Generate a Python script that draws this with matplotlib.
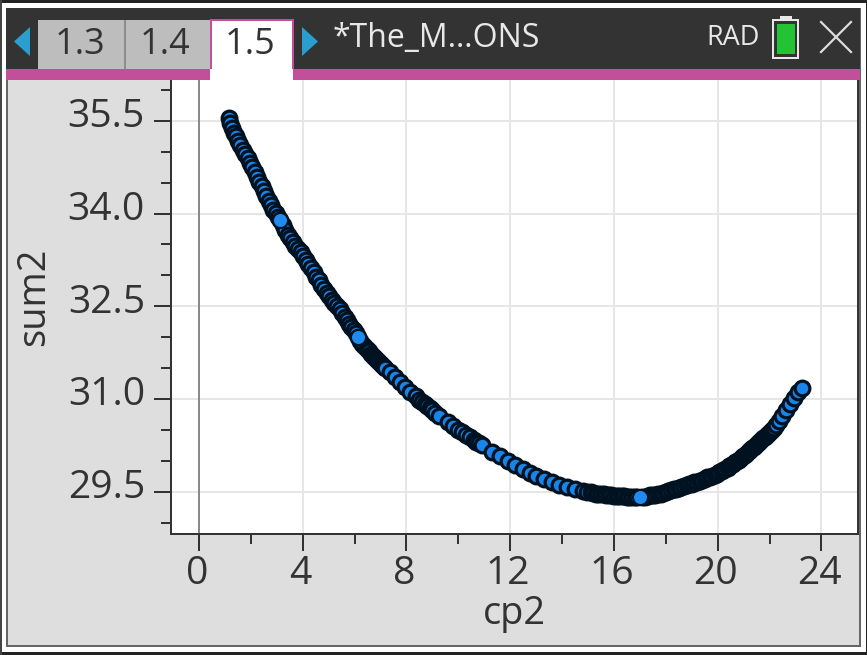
import matplotlib
matplotlib.use("Agg")
import matplotlib.pyplot as plt
from matplotlib.patches import Rectangle, Polygon
from matplotlib.ticker import MultipleLocator
from matplotlib.transforms import ScaledTranslation

cp2 = [1.15,1.2,1.27,1.35,1.43,1.51,1.6,1.69,1.78,1.87,1.96,2.05,2.14,2.23,2.32,2.41,2.5,2.59,2.68,2.77,2.86,2.95,3.04,3.12,
       3.22,3.32,3.42,3.52,3.62,3.72,3.82,3.92,4.02,4.12,4.22,4.32,4.42,4.52,4.62,4.72,4.82,4.92,5.02,5.12,5.22,5.32,5.42,5.52,5.62,5.72,5.8,5.88,5.96,6.04,6.13,
       6.22,6.3,6.38,6.46,6.54,6.62,6.7,6.78,6.86,6.94,7.02,7.1,7.18,7.36,7.55,7.75,7.95,8.15,8.35,8.5,8.6,8.7,8.8,8.9,9.0,9.1,9.25,
       9.6,9.8,10.0,10.15,10.3,10.45,10.6,10.7,10.8,10.9,11.3,11.6,11.9,12.2,12.5,12.76,13.0,13.3,13.6,13.9,14.2,14.5,14.8,
       14.95,15.1,15.2,15.3,15.4,15.5,15.6,15.7,15.8,15.9,16.0,16.1,16.2,16.3,16.4,16.5,16.6,16.7,16.8,16.9,17.1,17.2,17.3,17.4,17.5,17.6,17.7,17.8,17.9,18.0,
       18.1,18.2,18.3,18.4,18.5,18.6,18.7,18.8,18.9,19.0,19.1,19.2,19.3,19.4,19.5,19.6,
       19.7,19.8,19.9,19.97,20.05,20.15,20.22,20.3,20.38,20.45,20.52,20.6,20.68,20.75,20.82,20.9,20.98,21.05,21.12,21.19,21.26,21.33,21.4,21.47,21.54,21.61,21.68,21.75,21.82,21.89,21.96,22.03,22.1,22.17,
       22.25,22.35,22.5,22.65,22.8,22.95,23.1,23.25]
sum2 = [35.55,35.47,35.39,35.31,35.25,35.18,35.11,35.03,34.96,34.89,34.82,34.75,34.67,34.59,34.51,34.44,34.36,34.28,34.21,34.13,34.06,34.01,33.95,33.89,
        33.81,33.73,33.66,33.60,33.54,33.48,33.43,33.38,33.31,33.25,33.18,33.12,33.05,32.98,32.92,32.85,32.78,32.72,32.66,32.60,32.55,32.50,32.45,32.39,32.33,32.27,32.22,32.16,32.11,32.06,32.0,
        31.94,31.89,31.85,31.81,31.77,31.73,31.69,31.66,31.63,31.59,31.56,31.53,31.5,31.44,31.36,31.28,31.2,31.12,31.05,30.99,30.95,30.92,30.89,30.86,30.82,30.78,30.73,
        30.62,30.56,30.5,30.46,30.42,30.38,30.34,30.31,30.28,30.25,30.14,30.07,30.0,29.93,29.86,29.80,29.75,29.7,29.65,29.61,29.57,29.54,29.51,
        29.5,29.49,29.48,29.47,29.465,29.46,29.455,29.45,29.445,29.44,29.435,29.43,29.43,29.43,29.425,29.42,29.42,29.42,29.42,29.42,29.42,29.42,29.43,29.44,29.445,29.45,29.46,29.47,29.48,29.49,
        29.505,29.52,29.535,29.55,29.56,29.575,29.585,29.6,29.62,29.63,29.65,29.66,29.675,29.695,29.71,29.73,
        29.745,29.76,29.775,29.79,29.81,29.83,29.85,29.87,29.89,29.91,29.93,29.95,29.975,30.0,30.02,30.05,30.075,30.1,30.125,30.15,30.175,30.2,30.23,30.255,30.28,30.31,30.335,30.36,30.39,30.415,30.44,30.47,30.5,30.53,
        30.58,30.65,30.73,30.82,30.92,31.02,31.11,31.18]
selected_cp2 = [3.12, 6.13, 17.0]
selected_sum2 = [33.89, 32.0, 29.42]
x_ticks = [0, 4, 8, 12, 16, 20, 24]
y_ticks = [29.5, 31.0, 32.5, 34.0, 35.5]
y_tick_labels = ["29.5", "31.0", "32.5", "34.0", "35.5"]
tab_labels = ["1.3", "1.4", "1.5"]
doc_title = "*The_M\u2026ONS"

W, H = 867, 655
px = 0.72
plt.rcParams["font.family"] = ["Open Sans", "DejaVu Sans"]
fig = plt.figure(figsize=(W/100, H/100), dpi=100, facecolor="#dedede")
ax = fig.add_axes([171/W, (H-534.3)/H, (857.7-171)/W, (534.3-80)/H])
ax.set_facecolor("white")
ax.set_xlim(-1.08, 25.4)
ax.set_ylim(28.81, 36.16)
ax.set_xticks(x_ticks)
ax.set_yticks(y_ticks)
ax.set_yticklabels(y_tick_labels)
ax.xaxis.set_minor_locator(MultipleLocator(2))
ax.yaxis.set_minor_locator(MultipleLocator(0.5))
ax.grid(True, which="major", color="#e6e6e6", lw=2*px, zorder=0)
ax.set_axisbelow(True)
ax.axvline(0, color="#808080", lw=1.8*px, zorder=1)
ax.tick_params(which="major", length=17*px, width=2*px, color="#333333",
               labelsize=39*px, labelcolor="#333333")
ax.tick_params(axis="x", which="major", pad=3)
ax.tick_params(axis="y", which="major", pad=6.5)
ax.tick_params(which="minor", length=10*px, width=2*px, color="#333333")
for name, side in ax.spines.items():
    side.set_color("#333333")
    side.set_linewidth(2*px)
ax.spines["top"].set_visible(False)
for lab in ax.get_yticklabels():
    lab.set_transform(lab.get_transform() + ScaledTranslation(0, 8/100, fig.dpi_scale_trans))
for lab in ax.get_xticklabels():
    lab.set_transform(lab.get_transform() + ScaledTranslation(-2/100, 0, fig.dpi_scale_trans))
ax.set_xlabel("cp2", fontsize=38*px, color="#333333", labelpad=1)
ax.set_ylabel("sum2", fontsize=38*px, color="#333333")
ax.yaxis.set_label_coords(-0.172, 0.522)

ax.scatter(cp2, sum2, s=112, c="#1a85e8", edgecolors="#00111f", linewidths=3.2*px, zorder=3, clip_on=False)
ax.scatter(selected_cp2, selected_sum2, s=117, c="#1f8bf0", edgecolors="#00111f", linewidths=2.0*px, zorder=4, clip_on=False)

ch = fig.add_axes([0, 0, 1, 1], facecolor="none")
ch.set_xlim(0, W)
ch.set_ylim(H, 0)
ch.axis("off")

def box(x0, y0, x1, y1, fc, ec="none", lw=0, z=1):
    ch.add_patch(Rectangle((x0, y0), x1-x0, y1-y0, fc=fc, ec=ec, lw=lw, zorder=z))

# window frame
box(0, 0, W, 2.5, "#222222")
box(0, 2.5, W, 7.5, "#ffffff")
box(0, H-9, W, H-3, "#ffffff")
box(0, H-3, W, H, "#222222")
box(0, 0, 1.5, H, "#444444")
box(1.5, 2.5, 6, H-3, "#ffffff")
box(861, 2.5, W-1.5, H-3, "#ffffff")
box(W-1.5, 0, W, H, "#222222")
box(6, 644.5, 861, 646.5, "#666666")
box(6, 7.5, 8, 646, "#666666")
box(859, 7.5, 861, 646, "#666666")

# header
box(6, 8, 860, 69, "#333333")
box(6, 69, 860, 80, "#c34e9a")
box(38, 20, 124.5, 69, "#bdbdbd")
box(124.5, 20, 210, 69, "#bdbdbd")
box(123.5, 20, 125.5, 69, "#8c8c8c")
box(210, 19, 293, 81, "#ffffff", z=2)
box(210, 19, 293, 21, "#c34e9a", z=3)
box(209.5, 19, 211.5, 69, "#c34e9a", z=3)
box(291.5, 19, 293.5, 69, "#c34e9a", z=3)
ch.add_patch(Polygon([(30, 27), (30, 56), (14, 41.5)], fc="#2a9fcf", ec="none", zorder=3))
ch.add_patch(Polygon([(302, 27), (302, 56), (318, 41.5)], fc="#2a9fcf", ec="none", zorder=3))
for label, xc in zip(tab_labels, [80, 165, 250]):
    ch.text(xc, 45, label, fontsize=36*px, color="#333333", ha="center", va="center", zorder=5)
ch.text(333, 39, doc_title, fontsize=32*px, color="#e8e8e8", ha="left", va="center", zorder=5)
ch.text(706, 38, "RAD", fontsize=27*px, color="#e8e8e8", ha="left", va="center", zorder=5)
box(773, 20, 798, 58, "none", ec="#e8e8e8", lw=2*px, z=4)
box(780, 16, 792, 20, "#e8e8e8", z=4)
box(777, 24, 795, 54, "#22c433", z=5)
ch.plot([821, 851], [22, 52], color="#dddddd", lw=2.2*px, zorder=5)
ch.plot([851, 821], [22, 52], color="#dddddd", lw=2.2*px, zorder=5)

fig.savefig("out.png", dpi=100, facecolor=fig.get_facecolor())
